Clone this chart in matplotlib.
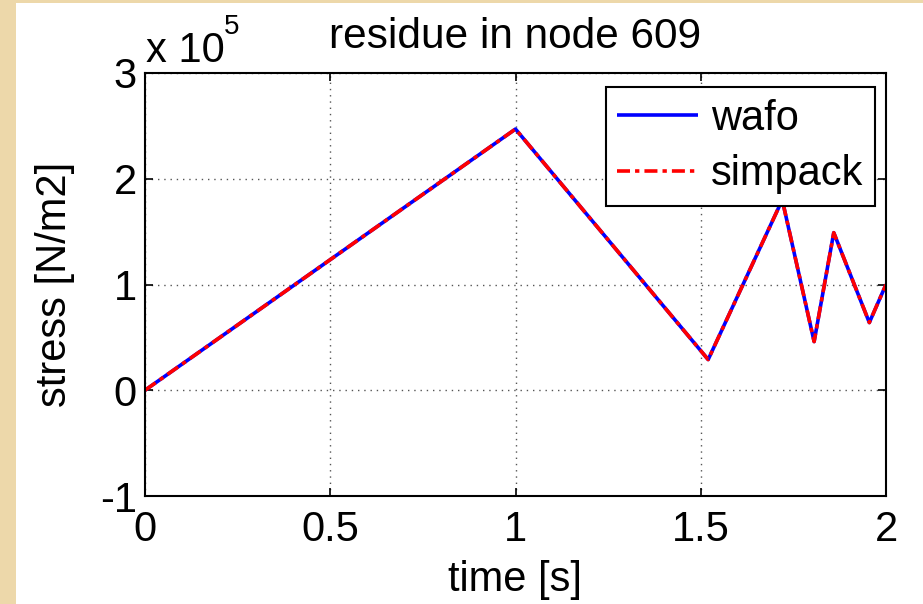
import matplotlib
matplotlib.use("Agg")
import matplotlib.pyplot as plt
from matplotlib.patches import Rectangle

plt.rcParams['font.family'] = ['Liberation Sans', 'DejaVu Sans']

# data
time_s = [0.0, 1.0, 1.52, 1.72, 1.806, 1.859, 1.955, 2.0]
wafo = [0.0, 2.47e5, 0.29e5, 1.80e5, 0.46e5, 1.49e5, 0.64e5, 1.0e5]
simpack = [0.0, 2.47e5, 0.29e5, 1.80e5, 0.46e5, 1.49e5, 0.64e5, 1.0e5]
xticks = [0, 0.5, 1, 1.5, 2]
xticklabels = ['0', '0.5', '1', '1.5', '2']
yticks = [-1e5, 0, 1e5, 2e5, 3e5]
yticklabels = ['-1', '0', '1', '2', '3']

W, H = 923, 604
fig = plt.figure(figsize=(W / 100, H / 100), dpi=100)
fig.patch.set_facecolor('#EDD8AA')
fig.patches.append(Rectangle((16 / W, 0), 1 - 16 / W, 1 - 3 / H, transform=fig.transFigure,
                             facecolor='white', edgecolor='none', zorder=-5))

ax = fig.add_axes([145 / W, 108 / H, (886 - 145) / W, (496 - 73) / H])
ax.set_zorder(2)
ax.set_facecolor('white')

ax.plot(time_s, wafo, color='#0000FF', lw=2.6, label='wafo', solid_capstyle='butt')
ax.plot(time_s, simpack, color='#FF0000', lw=2.6, ls=(0, (3.6, 1.4, 1.2, 1.4)),
        label='simpack')

ax.set_xlim(0, 2)
ax.set_ylim(-1e5, 3e5)
ax.set_xticks(xticks)
ax.set_xticklabels(xticklabels)
ax.set_yticks(yticks)
ax.set_yticklabels(yticklabels)
ax.tick_params(direction='in', length=6, width=1.2, top=True, right=True,
               labelsize=30, pad=6, colors='black')
ax.tick_params(axis='x', pad=10)
for s in ax.spines.values():
    s.set_linewidth(1.5)
    s.set_color('black')
ax.grid(True, color='#555555', ls=(0, (1, 3.5)), lw=1.0)

ax.set_xlabel('time [s]', fontsize=30, labelpad=7)
ax.set_ylabel('stress [N/m2]', fontsize=30, labelpad=18)
ax.set_title('residue in node 609', fontsize=30.5, pad=18)

fig.text(146 / W, 1 - 62 / H, 'x 10', fontsize=30, ha='left', va='baseline', zorder=3)
fig.text(224 / W, 1 - 34 / H, '5', fontsize=20, ha='left', va='baseline', zorder=3)

leg = ax.legend(loc='upper right', bbox_to_anchor=(875 / W, 1 - 87 / H),
                bbox_transform=fig.transFigure, borderaxespad=0, fontsize=30,
                fancybox=False, framealpha=1, edgecolor='black', handlelength=1.95,
                handletextpad=0.3, borderpad=0.28, labelspacing=0.37)
leg.get_frame().set_linewidth(1.5)

fig.savefig('out.png', dpi=100, facecolor=fig.get_facecolor())
